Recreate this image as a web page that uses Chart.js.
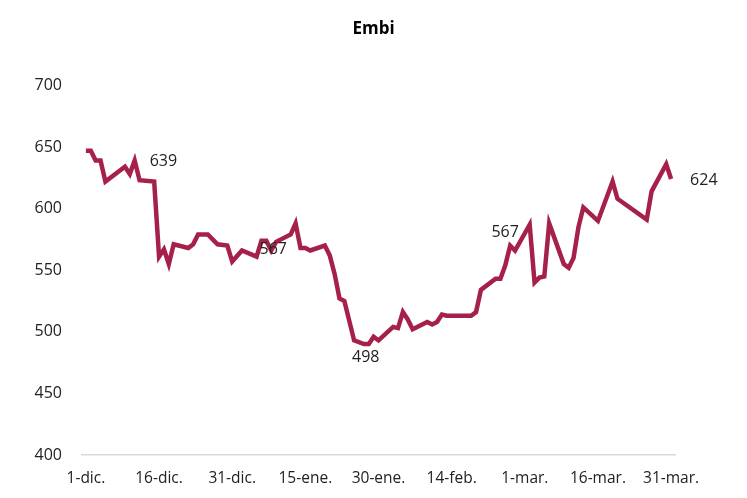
<!DOCTYPE html>
<html>
<head>
<meta charset="utf-8">
<title>Embi</title>
<script src="https://cdn.jsdelivr.net/npm/chart.js@4.4.0/dist/chart.umd.min.js"></script>
<style>
  html, body { margin: 0; padding: 0; background: #fff; }
  #wrap { width: 747px; height: 498px; }
</style>
</head>
<body>
<div id="wrap"><canvas id="embi"></canvas></div>
<script>
// day number counted from 1-dic.
const days = [0, 1, 2, 3, 4, 8, 9, 10, 11, 14, 15, 16, 17, 18, 21, 22, 23, 25, 27, 29,
  30, 32, 35, 36, 37, 38, 39, 42, 43, 44, 45, 46, 49, 50, 51, 52, 53, 55, 57, 58,
  59, 60, 63, 64, 65, 66, 67, 70, 71, 72, 73, 74, 79, 80, 81, 84, 85, 86, 87, 88,
  91, 92, 93, 94, 95, 98, 99, 100, 101, 102, 105, 108, 109, 115, 116, 119, 120];
const embi = [647, 647, 639, 639, 622, 634, 628, 639, 623, 622, 561, 567, 555, 571, 568, 571, 579, 579, 571, 570,
  557, 566, 561, 574, 574, 566, 573, 579, 588, 568, 568, 566, 570, 562, 547, 527, 525, 493, 490, 490,
  496, 493, 504, 503, 516, 510, 502, 508, 506, 508, 514, 513, 513, 516, 534, 543, 543, 554, 570, 566,
  587, 540, 544, 545, 588, 555, 552, 560, 585, 601, 590, 622, 608, 591, 614, 636, 624];

const tickDays = [0, 15, 30, 45, 60, 75, 90, 105, 120];
const tickLabels = ['1-dic.', '16-dic.', '31-dic.', '15-ene.', '30-ene.', '14-feb.', '1-mar.', '16-mar.', '31-mar.'];

// data labels written on the line
const noteDays = [10, 38, 58, 87, 120];
const noteText = ['639', '567', '498', '567', '624'];

const FONT = '"Open Sans", "Noto Sans", sans-serif';

// where each label sits relative to its point: dx, dy, align
const noteOffsets = [[15, 1, 'left'], [2, -1, 'center'], [-3, 13, 'center'], [-5, -13, 'center'], [19, 1, 'left']];

const notePlugin = {
  id: 'notes',
  afterDatasetsDraw(chart) {
    const ctx = chart.ctx;
    const xs = chart.scales.x, ys = chart.scales.y;
    ctx.save();
    ctx.font = '16px ' + FONT;
    ctx.fillStyle = '#222';
    ctx.textBaseline = 'middle';
    noteDays.forEach((d, i) => {
      const v = embi[days.indexOf(d)];
      const off = noteOffsets[i];
      ctx.textAlign = off[2];
      ctx.fillText(noteText[i], xs.getPixelForValue(d) + off[0], ys.getPixelForValue(v) + off[1]);
    });
    ctx.restore();
  }
};

new Chart(document.getElementById('embi'), {
  type: 'line',
  data: {
    datasets: [{
      label: 'Embi',
      data: days.map((d, i) => ({x: d, y: embi[i]})),
      borderColor: '#A6214A',
      borderWidth: 4.5,
      pointRadius: 0,
      tension: 0,
      fill: false
    }]
  },
  options: {
    responsive: true,
    maintainAspectRatio: false,
    animation: false,
    layout: { padding: 0 },
    plugins: {
      legend: { display: false },
      tooltip: { enabled: false },
      title: {
        display: true,
        text: 'Embi',
        color: '#000',
        font: { family: FONT, size: 17, weight: 'bold' },
        padding: { top: 19, bottom: 46 }
      }
    },
    scales: {
      x: {
        type: 'linear',
        min: -0.8,
        max: 120.8,
        afterBuildTicks: s => { s.ticks = tickDays.map(v => ({ value: v })); },
        afterFit: s => { s.height = 43; },
        grid: { display: false },
        border: { display: true, color: '#d9d9d9', width: 1.5 },
        ticks: {
          autoSkip: false,
          maxRotation: 0,
          padding: 6,
          color: '#222',
          font: { family: FONT, size: 15.5 },
          callback: v => tickLabels[tickDays.indexOf(v)]
        }
      },
      y: {
        min: 400,
        max: 700,
        afterFit: s => { s.width = 82; },
        grid: { display: false, drawTicks: false },
        border: { display: false },
        ticks: {
          stepSize: 50,
          padding: 20,
          color: '#222',
          font: { family: FONT, size: 16 }
        }
      },
      // empty axis on the right keeps the plot narrow while the title stays centred
      right: {
        position: 'right',
        display: true,
        afterFit: s => { s.width = 72; },
        grid: { display: false, drawTicks: false },
        border: { display: false },
        ticks: { display: false }
      }
    }
  },
  plugins: [notePlugin]
});
</script>
</body>
</html>
